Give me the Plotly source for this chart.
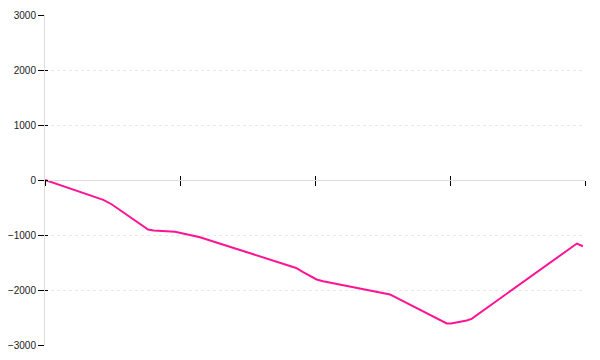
import plotly.graph_objects as go

x_vals = [0, 5.2, 10.8, 12.4, 19.1, 20.1, 24.1, 28.7, 46.5, 47.8, 50.3, 51.5,
          63.9, 64.5, 74.4, 75.2, 78.1, 79.0, 98.5, 99.6]
y_vals = [0, -175, -360, -445, -900, -918, -942, -1040, -1600, -1676, -1809, -1840,
          -2082, -2113, -2609, -2609, -2555, -2524, -1155, -1204]
x_ticks = [0, 25, 50, 75, 100]
y_ticks = [-3000, -2000, -1000, 0, 1000, 2000, 3000]
y_labels = ["\u22123000", "\u22122000", "\u22121000", "0", "1000", "2000", "3000"]

fig = go.Figure()
fig.add_trace(go.Scatter(x=x_vals, y=y_vals, mode="lines",
                         line=dict(color="#ff1493", width=2), showlegend=False))
# invisible trace to activate overlay axes
fig.add_trace(go.Scatter(x=[0], y=[0], xaxis="x2", yaxis="y2", mode="markers",
                         marker=dict(opacity=0), showlegend=False, hoverinfo="skip"))

fig.update_layout(
    width=600, height=360,
    margin=dict(l=45, r=15, t=15, b=15, autoexpand=False),
    paper_bgcolor="white", plot_bgcolor="white",
    font=dict(family="Liberation Sans, Arial, sans-serif", size=10, color="#222"),
    xaxis=dict(range=[0, 100], tickvals=x_ticks, showticklabels=False,
               ticks="outside", ticklen=5, tickwidth=1, tickcolor="#000",
               showgrid=False, zeroline=False, showline=True, linecolor="#ddd",
               linewidth=1, anchor="free", position=0.5, automargin=False),
    yaxis=dict(range=[-3000, 3000], tickvals=y_ticks, ticktext=y_labels,
               ticks="outside", ticklen=6, tickwidth=1, tickcolor="#000",
               showgrid=True, gridcolor="#e8e8e8", griddash="3px,3px", gridwidth=1,
               zeroline=False, showline=True, linecolor="#ddd", linewidth=1,
               ticklabelstandoff=0, automargin=False),
    xaxis2=dict(range=[0, 100], tickvals=x_ticks, showticklabels=False,
                ticks="inside", ticklen=4, tickwidth=1, tickcolor="#000",
                showgrid=False, zeroline=False, showline=False,
                overlaying="x", anchor="free", position=0.5, automargin=False),
    yaxis2=dict(range=[-3000, 3000], tickvals=y_ticks, showticklabels=False,
                ticks="inside", ticklen=3, tickwidth=1, tickcolor="#000",
                showgrid=False, zeroline=False, showline=False,
                overlaying="y", anchor="x", side="left", automargin=False),
)

fig.write_html("out.html")
